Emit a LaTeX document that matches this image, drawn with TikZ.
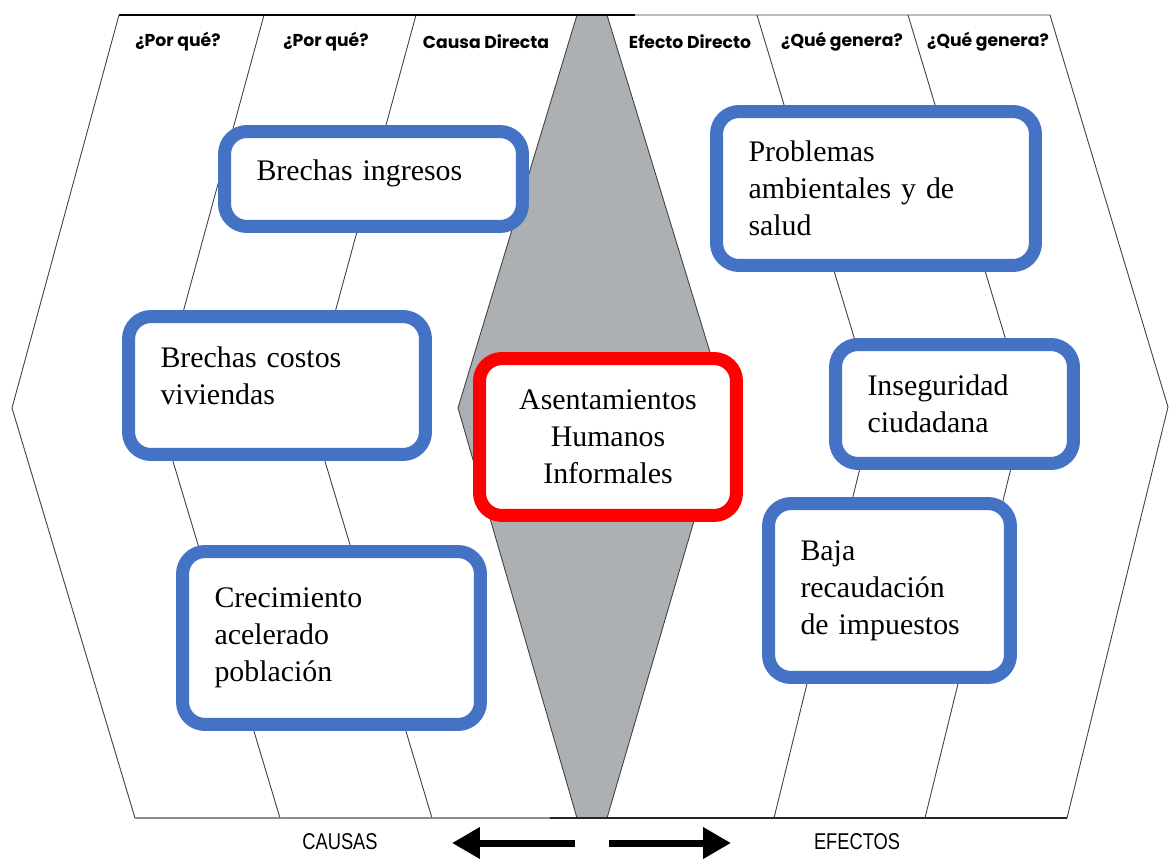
\documentclass[tikz,border=0pt]{standalone}
\usepackage{fontspec}
\setmainfont{Liberation Serif}
\newfontfamily\hdfont{Poppins}
\newfontfamily\ftfont[FakeStretch=0.8]{Liberation Sans}
\usepackage{xcolor}
\usetikzlibrary{arrows.meta}
\definecolor{bxblue}{HTML}{4472C4}
\definecolor{dmgray}{HTML}{ADB0B3}
\tikzset{
  box/.style = {rectangle, rounded corners=0.45cm, fill=white, line width=0.26cm,
    inner sep=0pt, font=\fontsize{17}{21}\selectfont},
  bx_b/.style = {box, draw=bxblue, align=left, inner xsep=0.64cm, text width=#1},% caja azul
  bx_r/.style = {box, draw=red, align=center},% caja roja
  hdr/.style = {font=\hdfont\bfseries\fontsize{9.8}{12}\selectfont, inner sep=0pt},% titulo columna
  ftr/.style = {font=\ftfont\fontsize{13}{15}\selectfont, inner sep=0pt},% causas / efectos
  frame/.style = {draw=black!75, line width=0.5pt},% contorno
  bigarrow/.style = {line width=0.14cm, -{Triangle[length=0.56cm,width=0.6cm]}}
}
\begin{document}
\begin{tikzpicture}[x=0.02cm,y=-0.02cm]
\fill[white] (0,0) rectangle (1171,863);
\useasboundingbox (0,0) rectangle (1171,863);
% contorno
\draw[frame] (119,15) -- (1050,15) -- (1168,407) -- (1067,818) -- (135,818) -- (12,408) -- cycle;
\draw[frame] (264,15) -- (157,408) -- (280,818);
\draw[frame] (416,15) -- (309,408) -- (432,818);
\draw[frame] (757,15) -- (875,407) -- (774,818);
\draw[frame] (908,15) -- (1026,407) -- (925,818);
\draw[frame, fill=dmgray] (577,15) -- (607,15) -- (727,408) -- (607,818) -- (577,818) -- (458,408) -- cycle;
\draw[black, line width=1.2pt] (119,15) -- (635,15);
\draw[black!45, line width=1.5pt] (135,818) -- (550,818);
\draw[black!85, line width=1.5pt] (550,818) -- (1067,818);
% titulos
\node[hdr] (h1) at (178,42) {¿Por qué?};
\node[hdr] (h2) at (326,42) {¿Por qué?};
\node[hdr] (h3) at (486,42) {Causa Directa};
\node[hdr] (h4) at (690,42) {Efecto Directo};
\node[hdr] (h5) at (842,42) {¿Qué genera?};
\node[hdr] (h6) at (988,42) {¿Qué genera?};
% causas
\node[bx_b=4.68cm, minimum height=1.90cm, text depth=0.36cm] (ingresos) at (373.5,179) {Brechas ingresos};
\node[bx_b=4.66cm, minimum height=2.76cm, text depth=1.14cm] (costos) at (277,385.5) {Brechas costos\\viviendas};
\node[bx_b=4.68cm, minimum height=3.46cm] (crecim) at (331.5,638) {Crecimiento\\acelerado\\población};
% problema
\node[bx_r, minimum width=5.14cm, minimum height=3.14cm] (ahi) at (608,437) {Asentamientos\\Humanos\\Informales};
% efectos
\node[bx_b=5.10cm, minimum height=3.08cm] (ambient) at (876,188.5) {Problemas\\ambientales y de\\salud};
\node[bx_b=3.48cm, minimum height=2.38cm] (insegur) at (954.5,404) {Inseguridad\\ciudadana};
\node[bx_b=3.56cm, minimum height=3.48cm] (recaud) at (889.5,590.5) {Baja\\recaudación\\de impuestos};
% pie
\node[ftr] (causas) at (340,842) {CAUSAS};
\node[ftr] (efectos) at (857,842) {EFECTOS};
\coordinate (izq0) at (575,843);
\coordinate (izq1) at (452,843);
\coordinate (der0) at (609,843);
\coordinate (der1) at (731,843);
\draw[bigarrow] (izq0) -- (izq1);
\draw[bigarrow] (der0) -- (der1);
\end{tikzpicture}
\end{document}
